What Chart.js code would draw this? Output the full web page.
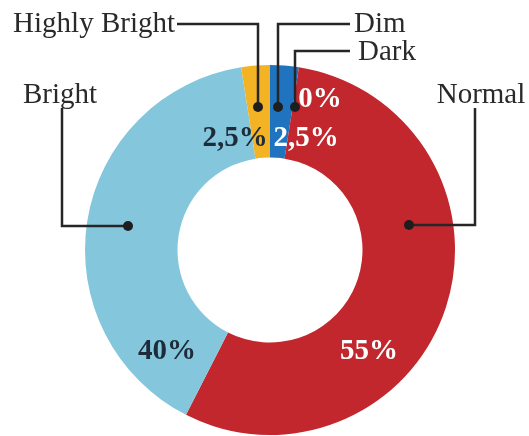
<!DOCTYPE html>
<html>
<head>
<meta charset="utf-8">
<script src="https://cdn.jsdelivr.net/npm/chart.js@4/dist/chart.umd.min.js"></script>
<style>
  html, body { margin: 0; padding: 0; background: #fff; }
  #wrap { width: 529px; height: 436px; }
</style>
</head>
<body>
<div id="wrap"><canvas id="pie"></canvas></div>
<script>
// slices, clockwise from 12 o'clock
const labels = ["Dim", "Dark", "Normal", "Bright", "Highly Bright"];
const values = [2.5, 0, 55, 40, 2.5];
const colors = ["#1f73bf", "#1f73bf", "#c1272d", "#84c7dc", "#f4b324"];
const valueColors = ["#ffffff", "#ffffff", "#ffffff", "#1d2b3a", "#1d2b3a"];

// where each value text sits (baseline centre)
const valuePos = [[306, 146], [320, 107], [369, 359], [167, 359], [235, 146]];

// leader lines: label anchor, polyline, dot
const callouts = [
  { text: [350, 32, "left"],   path: [[350, 24], [278, 24], [278, 107]] },
  { text: [354, 60, "left"],   path: [[350, 51], [295, 51], [295, 107]] },
  { text: [481, 103, "center"], path: [[475, 108], [475, 225], [409, 225]] },
  { text: [60, 103, "center"],  path: [[62, 108], [62, 226], [128, 226]] },
  { text: [175, 32, "right"],  path: [[177, 24], [258, 24], [258, 107]] }
];

const fmt = v => String(v).replace(".", ",") + "%";

const calloutPlugin = {
  id: "callouts",
  afterDraw(chart) {
    const ctx = chart.ctx;
    ctx.save();
    ctx.textBaseline = "alphabetic";

    // percentages on the ring
    ctx.font = "bold 29px 'Liberation Serif', 'DejaVu Serif', serif";
    ctx.textAlign = "center";
    values.forEach((v, i) => {
      ctx.fillStyle = valueColors[i];
      ctx.fillText(fmt(v), valuePos[i][0], valuePos[i][1]);
    });

    // category names with leader lines
    ctx.font = "29px 'Liberation Serif', 'DejaVu Serif', serif";
    ctx.strokeStyle = "#262626";
    ctx.lineWidth = 2.5;
    callouts.forEach((c, i) => {
      const [tx, ty, align] = c.text;
      let x = tx;
      if (align === "left") x = tx + 4;
      ctx.textAlign = align;
      ctx.fillStyle = "#2a2a2a";
      ctx.fillText(labels[i], x, ty);

      ctx.beginPath();
      c.path.forEach((p, k) => k ? ctx.lineTo(p[0], p[1]) : ctx.moveTo(p[0], p[1]));
      ctx.stroke();
      const end = c.path[c.path.length - 1];
      ctx.beginPath();
      ctx.fillStyle = "#1e1e1e";
      ctx.arc(end[0], end[1], 5, 0, Math.PI * 2);
      ctx.fill();
    });
    ctx.restore();
  }
};

new Chart(document.getElementById("pie"), {
  type: "doughnut",
  data: {
    labels: labels,
    datasets: [{
      data: values,
      backgroundColor: colors,
      borderWidth: 0
    }]
  },
  options: {
    responsive: true,
    maintainAspectRatio: false,
    animation: false,
    cutout: "50%",
    layout: { padding: { top: 65, bottom: 1, left: 85, right: 74 } },
    plugins: {
      legend: { display: false },
      tooltip: { enabled: false }
    }
  },
  plugins: [calloutPlugin]
});
</script>
</body>
</html>
